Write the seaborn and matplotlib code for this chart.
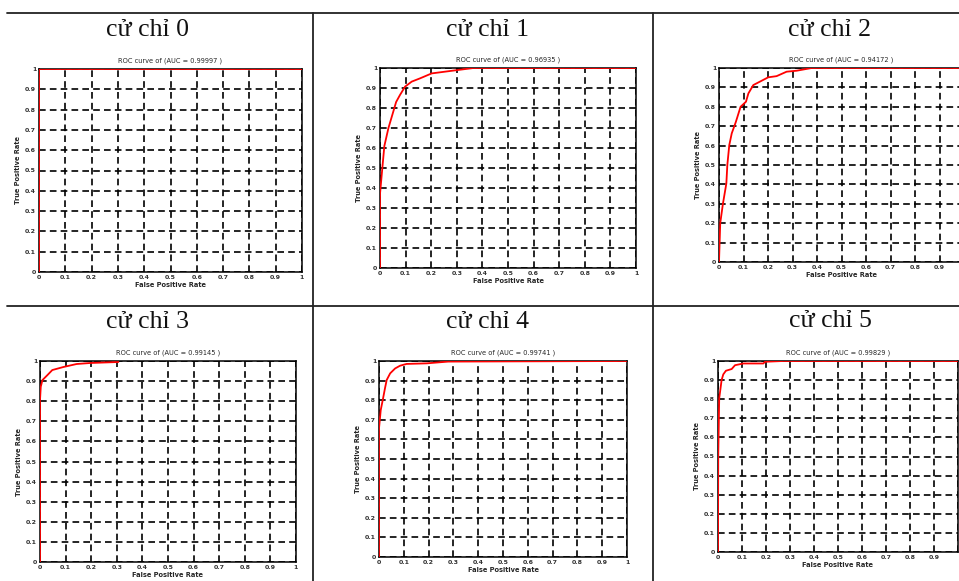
import numpy as np
import pandas as pd
import matplotlib
matplotlib.use("Agg")
import matplotlib.pyplot as plt
import seaborn as sns
from matplotlib.lines import Line2D

# -------------------------------
# DATA: ROC curves
# -------------------------------
titles = ["cử chỉ 0", "cử chỉ 1", "cử chỉ 2", "cử chỉ 3", "cử chỉ 4", "cử chỉ 5"]
auc_text = ["0.99997", "0.96935", "0.94172", "0.99145", "0.99741", "0.99829"]

fpr_0 = [0.0, 0.0, 1.0]
tpr_0 = [0.0, 1.0, 1.0]

fpr_1 = [0.0, 0.0, 0.007, 0.017, 0.033, 0.063, 0.078, 0.098, 0.124, 0.156, 0.202, 0.286, 0.365, 1.0]
tpr_1 = [0.0, 0.37, 0.47, 0.61, 0.70, 0.83, 0.865, 0.907, 0.932, 0.948, 0.973, 0.987, 1.0, 1.0]

fpr_2 = [0.0, 0.005, 0.016, 0.030, 0.034, 0.042, 0.052, 0.069, 0.088, 0.110, 0.120, 0.140,
         0.201, 0.235, 0.276, 0.317, 0.378, 1.0]
tpr_2 = [0.0, 0.20, 0.30, 0.405, 0.50, 0.603, 0.663, 0.723, 0.80, 0.826, 0.869, 0.912,
         0.952, 0.958, 0.981, 0.986, 1.0, 1.0]

fpr_3 = [0.0, 0.0, 0.003, 0.0095, 0.029, 0.048, 0.091, 0.143, 0.195, 0.306]
tpr_3 = [0.0, 0.806, 0.872, 0.905, 0.93, 0.955, 0.97, 0.985, 0.99, 0.995]

fpr_4 = [0.0, 0.0, 0.007, 0.015, 0.024, 0.031, 0.045, 0.065, 0.085, 0.111, 0.192, 0.279, 1.0]
tpr_4 = [0.0, 0.656, 0.75, 0.80, 0.86, 0.903, 0.937, 0.962, 0.976, 0.985, 0.988, 0.997, 1.0]

fpr_5 = [0.0, 0.001, 0.005, 0.015, 0.022, 0.033, 0.057, 0.071, 0.106, 0.189, 0.196, 0.272, 1.0]
tpr_5 = [0.0, 0.50, 0.804, 0.90, 0.93, 0.949, 0.958, 0.978, 0.987, 0.987, 0.996, 1.0, 1.0]

curves = [(fpr_0, tpr_0), (fpr_1, tpr_1), (fpr_2, tpr_2),
          (fpr_3, tpr_3), (fpr_4, tpr_4), (fpr_5, tpr_5)]

ticks = [0, 0.1, 0.2, 0.3, 0.4, 0.5, 0.6, 0.7, 0.8, 0.9, 1]
tick_labels = ["0", "0.1", "0.2", "0.3", "0.4", "0.5", "0.6", "0.7", "0.8", "0.9", "1"]

# -------------------------------
# LAYOUT (pixels of the original page)
# -------------------------------
W, H = 959, 581
# left, right, top, bottom of each axes box
boxes = [(39, 302, 69, 272), (380, 636, 68, 268), (719, 964, 68, 262),
         (40, 296, 361, 562), (379, 627, 361, 557), (718, 958, 361, 552)]
title_pos = [(147, 30), (487, 30), (830, 30), (147, 322), (487, 322), (830, 321)]
# right column is cropped at the page edge: its last x label is not visible
cropped = [False, False, True, False, False, True]

sns.set_theme(style="white")
plt.rcParams['font.family'] = ['DejaVu Sans']

fig = plt.figure(figsize=(W / 100, H / 100), dpi=100)
fig.patch.set_facecolor("white")

for i, (fpr, tpr) in enumerate(curves):
    l, r, t, b = boxes[i]
    ax = fig.add_axes([l / W, 1 - b / H, (r - l) / W, (b - t) / H])
    df = pd.DataFrame({"fpr": fpr, "tpr": tpr})
    sns.lineplot(data=df, x="fpr", y="tpr", ax=ax, color="#ff0000", lw=1.3,
                 sort=False, estimator=None, zorder=3)
    ax.set_xlim(0, 1)
    ax.set_ylim(0, 1)
    ax.set_xticks(ticks)
    ax.set_yticks(ticks)
    xl = list(tick_labels)
    if cropped[i]:
        xl[-1] = ""
    ax.set_xticklabels(xl, fontsize=4.5, fontweight="bold", color="#333333")
    ax.set_yticklabels(tick_labels, fontsize=4.5, fontweight="bold", color="#333333")
    ax.tick_params(direction="in", length=2.5, width=0.6, pad=2, color="black")
    ax.grid(True, color="black", linestyle=(0, (4, 2.5)), linewidth=1.2)
    for s in ax.spines.values():
        s.set_color("black")
        s.set_linewidth(1.1)
    ax.set_xlabel("False Positive Rate", fontsize=4.8, fontweight="bold", labelpad=1.5)
    ax.set_ylabel("True Positive Rate", fontsize=4.8, fontweight="bold", labelpad=3)
    ax.set_title("ROC curve of (AUC = %s )" % auc_text[i], fontsize=4.8, pad=5)

    tx, ty = title_pos[i]
    fig.text(tx / W, 1 - ty / H, titles[i], ha="center", va="center",
             fontsize=18.5, family="Liberation Serif", color="#111111")

# table borders
line_kw = dict(color="#222222", lw=1.3, transform=fig.transFigure)
fig.add_artist(Line2D([7 / W, 1], [1 - 13 / H, 1 - 13 / H], **line_kw))
fig.add_artist(Line2D([7 / W, 1], [1 - 306 / H, 1 - 306 / H], **line_kw))
fig.add_artist(Line2D([313 / W, 313 / W], [0, 1 - 13 / H], **line_kw))
fig.add_artist(Line2D([653 / W, 653 / W], [0, 1 - 13 / H], **line_kw))

fig.savefig("out.png", dpi=100, facecolor="white")
